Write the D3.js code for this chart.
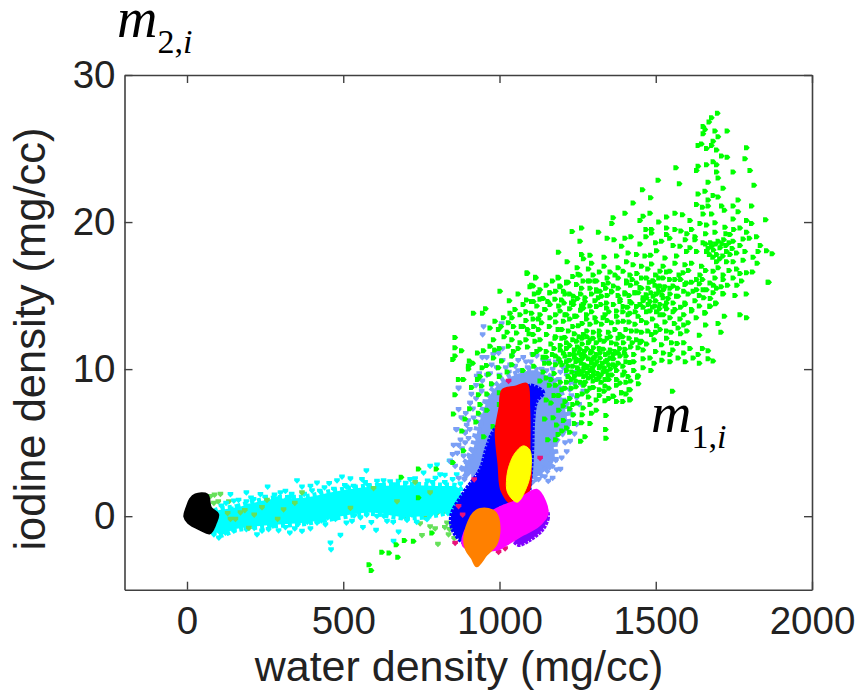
<!DOCTYPE html>
<html><head><meta charset="utf-8">
<script src="https://cdn.jsdelivr.net/npm/d3@7/dist/d3.min.js"></script>
<style>html,body{margin:0;background:#fff}svg{display:block}</style></head>
<body><svg id="c" width="864" height="690"></svg>
<script>
const xTicks=[0,500,1000,1500,2000];
const yTicks=[0,10,20,30];
const xLabel="water density (mg/cc)";
const yLabel="iodine density (mg/cc)";

const greenPts=[[1698,27.4],[1679,27.1],[1671,26.8],[1652,26.5],[1658,26.3],[1690,26.2],[1729,26.2],[1652,26],[1700,25.8],[1684,25.5],[1647,25.3],[1636,25.2],[1679,25.2],[1663,25],[1791,25.05],[1695,24.9],[1711,24.5],[1729,24.4],[1786,24.3],[1684,24.1],[1663,23.9],[1695,23.9],[1636,23.8],[1565,23.7],[1631,23.5],[1695,23.4],[1748,23.4],[1802,23.5],[1508,22.85],[1700,23],[1576,22.6],[1668,22.7],[1815,22.5],[1716,22.3],[1458,22.2],[1658,22.1],[1636,21.9],[1684,21.8],[1668,21.5],[1484,21.65],[1428,21.3],[1764,21.5],[1631,21.2],[1668,21.1],[1711,21.1],[1748,21.1],[1807,21.1],
[1562,20.6],[1402,20.6],[1482,20.6],[1364,20.3],[1460,20.4],[1535,20.35],[1586,20.5],[1652,20.55],[1679,20.55],[1764,20.7],[1450,20.1],[1360,19.9],[1852,20.15],[1748,20.2],[1791,20.1],[1642,19.9],[1663,19.8],[1690,19.95],[1722,19.65],[1807,19.9],[1770,19.6],[1263,19.6],[1233,19.35],[1317,19.3],[1469,19.5],[1487,19.5],[1535,19.6],[1562,19.5],[1581,19.4],[1615,19.5],[1690,19.3],[1345,18.9],[1367,18.8],[1402,18.9],[1421,19],[1469,19],[1487,19.25],[1535,19.15],[1626,19],[1738,19.15],[1791,19.3],[1823,19],[1258,18.7],[1519,18.7],[1626,18.8],[1652,18.6],[1679,18.35],[1706,18.25],[1748,18.7],[1780,18.85],[1391,18.35],[1556,18.4],[1578,18.35],[1610,18.25],[1503,18.05],[1631,18],[1189,17.95],[1263,17.8],[1290,17.75],[1412,17.9],[1439,17.8],[1466,17.7],[1484,17.75],[1530,17.55],[1567,17.7],[1599,18],[1663,18],[1695,17.8],[1727,18],[1759,17.9],[1786,18],[1828,18],[1855,18.05],[1873,17.85],[1812,17.6],[1269,17.5],[1217,17.3],[1407,17.3],[1428,17.1],[1455,17],[1487,17.15],[1524,17],[1562,17.2],[1594,17.1],[1615,17.2],[1647,17],[1695,17.3],[1727,17.3],[1748,17.3],[1780,17.4],
[1660,18.5],[1668,18.2],[1676,18.6],[1685,18.1],[1692,18.5],[1700,18.7],[1712,18.5],[1718,18.8],[1725,18.4],[1735,18.6],[1672,17.8],[1683,17.6],[1705,17.5],[1715,17.7],[1738,17.8],[1745,18.2],
[1380,16.9],[1249,16.9],[1285,16.8],[1354,16.6],[1396,16.65],[1418,16.4],[1514,16.65],[1546,16.65],[1588,16.55],[1642,16.4],[1684,16.65],[1716,16.4],[1759,16.8],[1791,16.55],[1089,16.5],[1116,16.2],[1189,16.2],[1258,16.4],[1290,16],[1311,16],[1348,15.85],[1380,16.2],[1407,15.85],[1439,15.85],[1471,16.2],[1492,16],[1524,16.2],[1562,16.1],[1599,15.85],[1631,16.1],[1674,15.85],[1716,16.1],[1748,16.2],[1862,15.9],[1103,15.7],[1194,15.6],[1215,15.85],[1263,15.5],[1322,15.3],[1359,15.3],[1402,15.2],[1434,15.2],[1476,15.5],[1508,15.6],[1546,15.5],[1620,15.3],[1663,15.4],[1695,15.5],[1754,15],[1162,15.2],[1125,15.2],[1199,14.7],[1237,14.6],[1274,14.6],[1317,14.85],[1386,14.6],[1418,14.6],[1460,14.85],[1492,14.95],[1524,14.85],[1567,14.95],[1716,15.1],[1087,14.7],[1109,14.6],[1162,14.4],[1269,14.15],[1311,14.25],[1343,14.15],[1396,14.25],[1439,14.25],[1476,14.4],[1514,14.4],[1556,14.5],[1594,14.5],[1615,14.05],[1674,14.25],[1692,14.45],[1103,13.8],[1146,14.05],[1210,13.7],[1247,13.6],[1279,13.7],[1332,13.5],[1375,13.6],[1418,13.8],[1471,13.9],[1503,13.9],[1556,13.9],[1658,13.8],[1770,13.7],[1791,13.5],
[1480,15.9],[1498,15.7],[1510,15.3],[1485,15.2],[1520,15.05],[1470,15.05],[1500,14.65],[1530,15.6],[1482,14.6],[1512,14.1],[1490,14.2],[1535,14.1],[1455,15.5],[1450,14.4],[1540,14.8],
[1215,15.9],[1247,15.75],[1285,16],[1306,16],[1333,15.75],[1365,15.65],[1407,16],[1450,15.55],[1492,16],[1514,15.65],[1556,15.65],[1594,15.75],[1631,15.4],[1652,15.4],[1684,15.2],[1716,15.15],[1860,15.9],[1205,15.3],[1237,14.95],[1274,14.85],[1311,15.3],[1327,14.95],[1359,15.25],[1402,15.1],[1434,15.2],[1471,14.85],[1503,15.1],[1546,15.1],[1572,14.95],[1604,15.1],[1654,14.85],[1693,14.5],[1626,14.65],[1207,14.5],[1237,14.4],[1263,14.3],[1306,14.65],[1343,14.5],[1386,14.75],[1423,14.5],[1460,14.65],[1498,14.3],[1535,14.5],[1562,14.05],[1594,14.4],[1615,13.95],[1658,13.85],[1674,14.3],[1215,13.7],[1242,13.6],[1279,13.4],[1306,13.5],[1338,13.7],[1375,13.95],[1412,13.7],[1444,13.6],[1482,13.95],[1514,13.7],[1546,13.5],[1578,13.4],[1604,13.15],[1205,13.25],[1253,12.95],[1290,13.05],[1327,13.05],[1359,13.15],[1397,13.25],[1434,13.05],[1471,13.15],[1503,12.95],[1535,12.6],[1572,12.8],[1709,12.5],[1221,12.6],[1269,12.35],[1301,12.5],[1349,12.5],[1386,12.35],[1423,12.6],[1455,12.5],[1487,12.35],[1514,12.7],[1580,12.4],[1210,12.15],[1247,11.9],[1285,11.8],[1322,12],[1359,11.8],[1397,11.8],[1439,12],[1471,11.7],[1519,11.65],[1551,11.8],[1569,11.75],[1668,11.25],[1636,11],[1620,10.75],[1546,11],[1572,10.75],[1668,10.7],[1684,10.55],[1546,10.5],[1258,11.35],[1301,11.45],[1333,11.35],[1370,11.2],[1402,11.35],[1444,11.45],[1482,10.75],[1226,11],[1247,10.65],[1274,10.9],[1295,10.45],[1322,10.75],[1354,10.75],[1386,10.9],[1418,10.45],[1444,9.55],[1412,9.5],[1279,10.1],[1301,9.85],[1322,10.2],[1343,9.85],[1370,10.2],[1258,9.65],[1285,9.4],[1311,9.3],[1338,9.3],[1386,9.05],[1365,8.15],[1391,8.4],[1418,8.6],[1418,7.95],[1554,8.5],[1338,8.85],[1301,8.75],
[1235,10.2],[1250,10.1],[1262,10.4],[1270,10],[1285,10.7],[1290,9.9],[1305,10.3],[1315,9.7],[1330,10.4],[1240,9.5],[1255,9.9],[1270,9.5],[1295,9.5],[1325,9.6],[1350,10.3],[1360,9.6],[1240,11.3],[1262,11],[1280,11.4],[1310,11],[1340,11],[1290,12],[1240,12.4],[1265,11.7],[1310,11.8],[1345,12.1],[1375,11.7],[1380,10.4],[1395,10.2],[1405,10.9],[1430,11],[1450,11.8],
[1089,16.55],[1116,16.25],[1188,16.25],[1252,16.45],[1220,15.9],[1194,15.65],[1268,16],[1108,15.65],[1130,15.4],[1098,15.6],[1002,15.3],[1060,15.1],[1162,15.2],[1210,15.1],[1311,15.4],[1112,15.1],[1130,14.75],[1032,14.65],[1076,14.4],[1103,14.6],[1178,14.75],[1231,14.5],[956,14.1],[917,13.8],[946,13.8],[1050,14.05],[1146,14.05],[1034,13.8],[1194,13.95],[1268,14.4],[1242,13.6],[1013,13.5],[1066,13.7],[1108,13.4],[1162,13.5],[986,13.25],[1029,13.15],[1076,12.9],[1135,13.15],[1188,12.7],[970,12.8],[997,12.7],[1055,12.45],[1108,12.35],[1151,12.35],[1178,12.1],[1215,11.8],[858,12.15],[981,12],[1029,11.55],[1066,11.8],[1114,11.9],[1130,11.35],[858,11.45],[879,11.25],[949,11.25],[970,11.55],[1108,11],[858,10.9],[851,10.65],[904,10.55],[981,10.75],[901,10.2],[959,10.25],[1007,10.55],[997,10.1],[901,10],[938,9.5],[869,9.3],[885,9.3],[965,9.65],[930,9.3],[911,8.75],[943,8.85],[858,8.25],[933,8.25],[938,7.6],[853,6.95],[933,7],
[1442,9.45],[1415,8.6],[1418,7.9],[1391,8.4],[1364,8.15],[1375,7.8],[1338,7.85],[1341,6.85],[1340,5.9],[1341,5.3],[1274,5.4],[1263,6.35],[1295,7],[1236,6.9],[1268,7.35],[1215,6],[1188,5.55],[1172,6.7],[1204,7.5],[1183,6.2],
[1180,12.2],[1195,11.6],[1205,11.1],[1180,10.9],[1160,10.4],[1200,10.3],[1215,9.9],[1175,9.7],[1230,9.3],[1195,9.1],[1210,8.7],[1245,8.8],[1265,8.3],[1225,8],[1190,8.2],[1160,8.9],[1250,7.7],[1285,8.1],[1310,7.9],[1205,6.5],[1145,6.6],[1155,5.2],[1225,7.3],[980,6.1],[960,7.2],[1000,8.4],[950,5.4],[1140,9.8],
[741,3.2],[686,2.65],[798,3.2],[741,1.25],[784,-1.15],[725,-1.7],[696,-1.65],[670,-1.95],[624,-2.45],[647,-2.5],[675,-2.8],[583,-3.3],[590,-3.7],[851,3.65],[885,4.45]];

const greenDense=[[1320,16.6],[1335,17],[1370,16.4],[1440,16.5],[1475,16.8],[1500,16.4],[1535,16.6],[1575,16.4],[1605,16.7],[1660,16.7],[1700,16.9],[1735,16.7],[1770,16.5],[1300,16.4],[1345,16.2],[1425,16.1],[1455,16.2],[1510,16.2],[1545,16.1],[1580,16.1],[1615,15.9],[1650,16.1],[1690,16.2],[1730,15.7],[1775,16],[1235,16.3],[1170,16],[1150,15.7],[1290,15.5],[1340,15.5],[1380,15.5],[1420,15.7],[1525,15.4],[1570,15.5],[1640,15.8],[1685,15.7],[1710,15.6],[1140,14.8],[1180,15.3],[1225,15.1],[1260,15.1],[1295,15.1],[1345,15],[1380,15],[1415,15],[1445,15.2],[1590,15.3],[1640,15],[1675,14.8],[1120,14.3],[1155,14.6],[1190,14.3],[1250,14.8],[1290,14.3],[1325,14.4],[1365,14.4],[1410,14.2],[1460,14.2],[1530,14.3],[1580,14.2],[1640,14.3],[1085,13.9],[1130,13.7],[1180,13.7],[1225,14.1],[1260,14],[1295,13.9],[1350,13.9],[1395,13.9],[1435,13.9],[1525,13.7],[1590,13.7],[1630,13.5],[1040,13.5],[1085,13.3],[1125,13.4],[1180,13.2],[1225,13.4],[1265,13.1],[1310,13.2],[1345,13.3],[1380,13.2],[1415,13.2],[1455,13.3],[1490,13.4],[1530,13.2],[1560,13.1],[1590,13],[1005,12.9],[1045,12.9],[1090,12.7],[1125,12.7],[1160,12.9],[1200,12.7],[1235,12.9],[1280,12.6],[1320,12.6],[1370,12.7],[1405,12.7],[1440,12.6],[1475,12.6],[1500,12.5],[1550,12.5],[1600,12.6],[1015,12.2],[1040,12],[1085,12],[1130,12],[1165,11.7],[1200,12.1],[1235,12],[1265,12.1],[1300,12.1],[1335,11.9],[1380,12.1],[1415,12.1],[1455,11.9],[1495,12],[1535,12.1],[1590,11.8],[1000,11.4],[1045,11.2],[1090,11.5],[1150,11.2],[1175,11.4],[1225,11.6],[1250,11.5],[1295,11.2],[1320,11.4],[1355,11.3],[1385,11.4],[1420,11.5],[1460,11.3],[1500,11.2],[1525,11.1],[1555,11.3],[1590,11.1],[1610,11.4],[1650,11.4],[930,11.1],[915,10.4],[1040,10.9],[1150,10.8],[1190,10.7],[1215,10.5],[1240,10.8],[1265,10.7],[1305,10.8],[1340,10.5],[1365,10.7],[1405,10.5],[1430,10.5],[1460,10.7],[1495,10.4],[1520,10.6],[1595,10.5],[1640,10.4],[1220,10.2],[1245,9.2],[1275,9.1],[1300,9.2],[1325,9.1],[1350,9.3],[1375,9.9],[1400,9.8],[1430,9.9],[1460,10.1],[1485,9.9],[1220,9.5],[1260,9.1],[1290,8.7],[1320,8.6],[1350,8.7],[1375,8.9],[1405,9.1],[1445,9],[1230,8.7],[1280,8.5],[1320,8.2],[1350,8],[1395,7.8],[1250,8.2],[1290,7.6],[1310,7.2],[1265,6.9],[1240,6.3],[1225,5.7],[1290,6.3],[1200,5.8],[1180,5.2],[1260,5.1],[1165,7.7],[1190,7.2],[1235,7.6],[1130,9.2],[1165,9.3],[1150,7.9],[1000,9.5],[1040,10.3],[975,9],[960,8.3],[945,10.1],[985,11.3],[925,6.4],[890,6.6],[905,7.3],[880,5.8],[1000,7.6],[1025,9.8],[1075,9.9],[1110,10.2],[1145,10.4],[1660,13],[1720,13.6],[1640,12.3],[1700,13.1],[1810,16.6],[1825,17.2],[1760,15.7],[1790,15.1],[1800,18.9],[1835,18.4],[1770,18.4],[1750,19.5],[1725,19.2],[1660,19.2],[1595,18.8],[1545,18.9],[1500,18.6],[1450,18.5],[1375,17.7],[1335,17.6],[1295,17.2],[1600,19.2],[1650,21],[1700,21.7],[1720,20.8],[1610,20.1],[1510,20],
[1245,10.5],[1258,10.6],[1272,10.3],[1282,10.2],[1298,10.1],[1312,10.5],[1320,10.1],[1335,10.1],[1345,10.6],[1355,10],[1232,9.8],[1248,9.7],[1265,9.8],[1280,9.7],[1302,9.6],[1318,9.4],[1332,9.8],[1348,9.6],[1240,11],[1255,11.1],[1272,11.2],[1292,11.1],[1300,10.7],[1322,11.1],[1350,11.1],[1365,11],[1380,11.1],[1225,10.6],[1210,10.9],[1195,10.5],[1180,10.3],[1170,11],[1195,11.3],[1215,11.4],[1255,12.2],[1280,12.2],[1320,12.3],[1355,12.2],[1395,12.2],[1425,11.8],[1400,11.1],[1365,10.3],[1375,9.3],[1395,9.6],[1420,9.2],[1405,8.3],[1335,8.5],[1270,8.9],[1215,9.1],[1200,8.6],[1180,8.9],[1210,7.8],[1175,8.2],[1150,9.4],[1140,10.8],[1120,11.2],[1095,12.4],[1070,12.9],[1025,12.5],[1060,11.4],[1110,12.9]];

const lightGreenPts=[[746,-.5],[762,-.1],[778,-.7],[794,-.85],[752,-1.3],[803,-1.9],[832,-.45],[848,-.6],[837,-1.25],[800,.2],[821,.3],[704,-.2],[75,1.35],[88,1.45],[107,1.5],[86,.9],[100,1],[134,1],[112,-1.1],[840,-.9],[825,-.75],[855,-1.5]];
const lightGreenOnCyan=[[155,-.2],[171,.25],[139,-.2],[198,-.8],[256,1.1],[309,.45],[368,1.6],[523,.55],[597,1.9],[672,1],[730,2.3],[778,1.6],[130,.2],[185,.4],[215,.1],[240,.6],[290,-.2],[345,.9]];

const cyanBand=[[86,.2],[160,.6],[267,1.15],[373,1.25],[480,1.7],[587,2],[693,2.1],[800,2.05],[870,1.9],[870,.7],[800,.15],[693,-.05],[587,.25],[480,-.05],[373,-.45],[267,-.6],[160,-.85],[100,-1.2]];
const cyanPts=[[574,3.1],[496,2.68],[523,2.55],[480,2.43],[352,2.43],[560,2.5],[258,2],[416,2.27],[368,2],[455,2.23],[533,2.05],[608,2.39],[629,2.43],[757,2.95],[778,3.4],[800,3.5],[840,3.75],[677,2.39],[714,2.5],[190,1.6],[139,1.48],[299,1.6],[315,1.7],[213,1.14],[235,1.48],[102,-1.47],[86,-1.25],[123,-1.13],[224,-1.25],[261,-.9],[293,-.97],[329,-1.13],[368,-1.02],[395,-.84],[416,-.45],[443,-.57],[491,-1.29],[459,-1.81],[461,-2.27],[528,-.34],[563,-.75],[590,-.41],[605,-.95],[608,0],[640,-.34],[677,-1.06],[661,-1.7],[704,-.27],[768,-.22],[800,.34],[810,2.83],[842,3.74],[863,2.83],[799,1.9],[831,1.24],[853,1.9],[789,.8],[870,.4],[835,.2],[280,1.45],[335,1.5],[400,1.75],[440,1.95],[505,2.1],[570,2.3],[650,2.35],[730,2.55],[150,1.05],[190,1],[240,-1],[345,-.85],[430,-.3],[510,-.45],[555,-.1],[660,-.4],[735,-.4],
[125,.9],[165,1.1],[205,1.25],[250,1.3],[290,1.2],[330,1.3],[375,1.5],[395,2.05],[425,1.7],[470,1.85],[510,2],[545,1.75],[580,2.1],[620,2.1],[665,2.15],[700,2.25],[740,2.1],[785,2.3],[825,2.3],[850,2.5],[875,2.2],[825,2.8],[795,2.6],[770,2.4],[110,-.9],[150,-1],[190,-.9],[215,-.8],[275,-.65],[315,-.75],[355,-.55],[385,-.4],[450,-.1],[475,-.2],[535,.05],[575,.1],[630,0],[690,-.05],[720,.1],[780,.1],[825,.6],[855,.9],[875,1.2],[110,.7],[140,.5],[195,.7],[320,1.1],[470,1.25],[620,1.65],[740,1.5]];

const lightBlueHull=[[915,4.5],[940,6.7],[985,8.7],[1050,9.6],[1115,9.9],[1175,9.1],[1205,7.6],[1215,6.2],[1175,5],[1175,3.8],[1135,2.9],[1087,2.4],[940,2.9],[885,3]];
const lightBluePts=[[997,11.1],[906,10.3],[869,8.73],[906,7.7],[869,7.26],[861,5.9],[890,5.74],[853,4.83],[869,4.83],[885,4.1],[842,3.74],[927,9.53],[943,8.5],[917,6.69],[901,5.3],[991,10.1],[1034,10.3],[1076,10.8],[1119,10.9],[1156,10.55],[1204,10.1],[1226,9.07],[1247,8.05],[1247,6.24],[1226,5.1],[1199,3.97],[1183,3.17],[1156,2.38],[959,10.8],[949,12.9],[1007,13.1],[946,12.35],[869,8.7],[906,7.7],[863,5.9],[890,5.66],[1260,9],[1268,8.5],[1220,10.6],[1240,9.8],[1230,8.2],[1210,6.9],[1100,10.5],[1050,10.2],[970,9.7],[925,8],[900,6.5],[880,4.6],[895,3.6],[1225,7.1],[1195,9.8],[1170,10],[1010,10.6],[1150,4.3],[1210,5],[1170,2.6],
[975,8.9],[955,7.8],[940,6.2],[925,5.4],[910,4.5],[920,3.4],[900,2.9],[880,3.2],[945,9.2],[1000,9.6],[1030,9.8],[1060,9.9],[1090,10.1],[1135,10],[1165,9.4],[1185,8.6],[1205,8.7],[1205,7.9],[1220,6.2],[1205,5.7],[1180,5],[1175,4.4],[1180,3.8],[1160,3.3],[1145,2.7],[1125,2.5],[1105,2.3],[1020,10.1],[1085,10.5],[1150,9.9],[1190,9.3],[1215,7.6],[1235,6.9],[975,10.3],[915,7.3],[905,5.9],[865,4.3],
[892,7],[878,6.7],[925,8.9],[910,8.3],[935,9.7],[960,9.6],[890,5],[875,5.2],[850,4.2],[858,3.4],[870,2.6],[888,2.5],[905,4],[895,6.2],[1060,10.6],[1105,11],[1140,10.6],[1180,10.5],[1215,9.6],[1240,9],[1255,7.6],[1240,5.6],[1215,4.4],[1195,3.2],[1140,3.6],[1225,8.6],[1010,11.4],[1040,10.9],[980,11],[945,10.8]];

const bluePoly=[[1092,8.85],[1125,8.7],[1140,8.4],[1118,7.8],[1108,6.5],[1105,4.6],[1098,2.38],[1087,1.24],[991,.56],[895,-1.82],[855,-1.14],[845,-.01],[885,1.58],[938,3.17],[959,4.65],[981,5.78],[1045,7.37]];
const redPoly=[[1010,8.6],[1050,8.8],[1087,9],[1095,7.37],[1096,4.65],[1094,1.7],[1044,.8],[1007,1.7],[997,3.51],[988,5.78],[1000,7.37]];
const yellowPoly=[[1076,4.78],[1097,4.5],[1100,3.06],[1086,1.92],[1057,.95],[1026,1.6],[1023,2.6],[1032,3.51],[1050,4.3]];
const purplePoly=[[1151,.33],[1155,-.12],[1137,-.92],[1098,-1.6],[1060,-1.95],[1044,-1.48],[1098,-.69]];
const magentaPoly=[[997,.56],[1055,1.06],[1119,1.8],[1146,1.01],[1153,.11],[1124,-.69],[1076,-1.26],[1023,-1.94],[991,-2.28],[885,-2.05],[895,-.8]];
const orangePoly=[[938,.49],[965,.49],[988,.22],[1000,-.8],[989,-1.94],[959,-2.62],[927,-3.41],[911,-2.85],[893,-2.28],[887,-1.48],[901,-.35],[917,.22]];
const blackPoly=[[27,1.44],[64,1.44],[75,.57],[98,.12],[91,-.45],[73,-1.13],[43,-.9],[5,-.45],[-7,-.03],[0,.57],[11,1.14]];
const crimsonPts=[[1029,9.19],[1130,3.96],[919,2.49],[1018,-2.2],[997,-2.44],[858,-1.82],[882,.1],[869,.67]];

const x=d3.scaleLinear().domain([-200,2000]).range([124.5,812]);
const y=d3.scaleLinear().domain([-5,30]).range([589.7,75]);
const svg=d3.select("#c");
const smooth=d3.line().x(d=>x(d[0])).y(d=>y(d[1])).curve(d3.curveCatmullRomClosed);
const markerR="M-2.7,-2.5L.9,-2.5L3.1,0L.9,2.5L-2.7,2.5Z";
const markerD="M-2.8,-2.3L2.8,-2.3L2.8,.3L0,3.2L-2.8,.3Z";
function pts(data,color,path){svg.append("g").attr("fill",color).selectAll("path").data(data).join("path")
  .attr("d",path).attr("transform",d=>`translate(${x(d[0])},${y(d[1])})`);}
function blob(data,color,sw=2,dash=null){const p=svg.append("path").attr("d",smooth(data)).attr("fill",color).attr("stroke",color).attr("stroke-width",sw).attr("stroke-linejoin","round");
  if(dash)p.attr("stroke-dasharray",dash);}

pts(lightGreenPts,"#66e05a",markerD);
blob(cyanBand,"#00ffff",7,"4 3");
pts(cyanPts,"#00ffff",markerD);
pts(lightGreenOnCyan,"#66e05a",markerD);
blob(lightBlueHull,"#7b9ff5",8,"4 3");
pts(lightBluePts,"#7b9ff5",markerD);
pts(greenPts,"#00ff00",markerR);
pts(greenDense,"#00ff00",markerR);
blob(bluePoly,"#0000ff",4,"3 1");
pts(crimsonPts,"#e8137a",markerD);
blob(redPoly,"#ff0000",2);
blob(purplePoly,"#8000ff",4,"3 1");
blob(magentaPoly,"#ff00ff",2);
blob(yellowPoly,"#ffff00",1);
blob(orangePoly,"#ff8000",2);
blob(blackPoly,"#000000",3);

const axColor="#404040";
const sans="'Liberation Sans',Arial,sans-serif";
function styleAxis(g){g.select(".domain").attr("stroke",axColor).attr("stroke-width",1.6);
  g.selectAll(".tick line").attr("stroke",axColor).attr("stroke-width",1.4);
  g.selectAll("text").attr("font-family",sans).attr("font-size",38.5).attr("fill","#222");}
svg.append("g").attr("transform","translate(0,589.7)").call(d3.axisBottom(x).tickValues(xTicks).tickSize(-8).tickSizeOuter(0).tickPadding(17).tickFormat(d3.format("d"))).call(styleAxis);
svg.append("g").attr("transform","translate(0,75)").call(d3.axisTop(x).tickValues(xTicks).tickSize(-8).tickSizeOuter(0).tickFormat("")).call(styleAxis);
svg.append("g").attr("transform","translate(124.5,0)").call(d3.axisLeft(y).tickValues(yTicks).tickSize(-8).tickSizeOuter(0).tickPadding(9)).call(styleAxis);
svg.append("g").attr("transform","translate(812,0)").call(d3.axisRight(y).tickValues(yTicks).tickSize(-8).tickSizeOuter(0).tickFormat("")).call(styleAxis);

svg.append("text").attr("x",459).attr("y",681).attr("text-anchor","middle").attr("font-family",sans).attr("font-size",43).attr("fill","#222").text(xLabel);
svg.append("text").attr("transform","translate(45,339) rotate(-90)").attr("text-anchor","middle").attr("font-family",sans).attr("font-size",43.5).attr("fill","#222").text(yLabel);

function mLabel(px,py,num){
  const t=svg.append("text").attr("x",px).attr("y",py).attr("font-family","'Liberation Serif',serif").attr("fill","#000");
  t.append("tspan").attr("font-size",56).attr("font-style","italic").text("m");
  t.append("tspan").attr("font-size",34).attr("dy",16).text(num+",");
  t.append("tspan").attr("font-size",34).attr("font-style","italic").text("i");
}
mLabel(117,37,"2");
mLabel(651,432,"1");
</script></body></html>
